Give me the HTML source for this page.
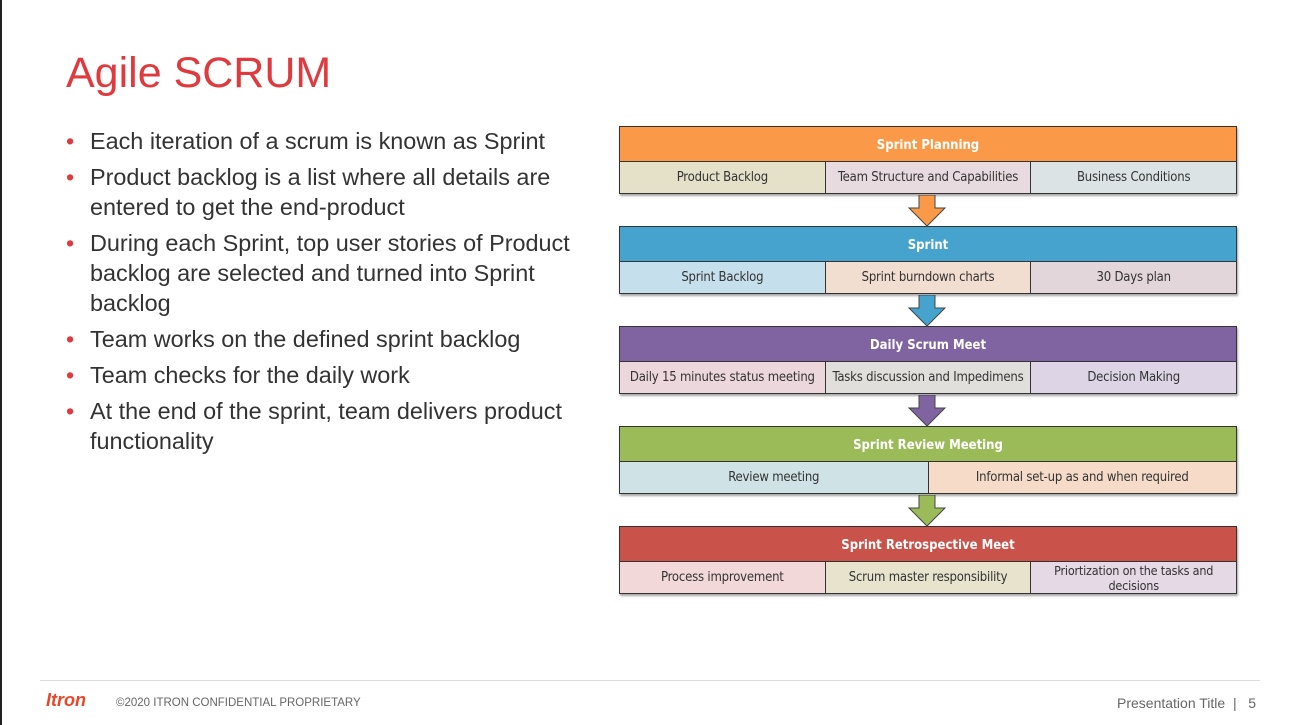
<!DOCTYPE html>
<html><head><style>
body{margin:0;width:1293px;height:725px;background:#fff;position:relative;overflow:hidden;font-family:"Liberation Sans",sans-serif}
.lb{position:absolute;left:0;top:0;width:2px;height:725px;background:#222}
h1{position:absolute;left:66px;top:49px;margin:0;font-weight:normal;font-size:43px;color:#e03a3e}
ul{position:absolute;left:66px;top:126px;margin:0;padding:0;list-style:none;width:530px}
li{position:relative;padding-left:24px;font-size:23.4px;line-height:30px;color:#333;margin-bottom:6px}
li:before{content:"•";position:absolute;left:0;color:#e03a3e}
.blk{position:absolute;left:619px;width:616px;border:1.5px solid #333;box-shadow:1px 2px 2px rgba(0,0,0,.35)}
.hd{height:34px;line-height:38px;text-align:center;color:#fff;font-size:13px;font-weight:600;border-bottom:1.5px solid #333;font-family:"DejaVu Sans Condensed","Liberation Sans Narrow",sans-serif}
.row{display:flex;height:31px}
.row div{flex:1;text-align:center;line-height:31px;font-size:13px;color:#333;border-left:1.5px solid #333;font-family:"DejaVu Sans Condensed","Liberation Sans Narrow",sans-serif;letter-spacing:-.2px}
.row div:first-child{border-left:none}
.arr{position:absolute;left:907px}
.foot{position:absolute;left:40px;top:680px;width:1220px;height:1px;background:#ddd}
</style></head><body>
<div class="lb"></div>
<h1>Agile SCRUM</h1>
<ul>
<li>Each iteration of a scrum is known as Sprint</li>
<li>Product backlog is a list where all details are entered to get the end-product</li>
<li>During each Sprint, top user stories of Product backlog are selected and turned into Sprint backlog</li>
<li>Team works on the defined sprint backlog</li>
<li>Team checks for the daily work</li>
<li>At the end of the sprint, team delivers product functionality</li>
</ul>

<div class="blk" style="top:126px"><div class="hd" style="background:#fa9a48">Sprint Planning</div>
<div class="row"><div style="background:#e5e1c9">Product Backlog</div><div style="background:#e8dbdf">Team Structure and Capabilities</div><div style="background:#dce3e5">Business Conditions</div></div></div>
<div class="blk" style="top:226px"><div class="hd" style="background:#45a3cd">Sprint</div>
<div class="row"><div style="background:#c6dfec">Sprint Backlog</div><div style="background:#f2ddd1">Sprint burndown charts</div><div style="background:#e2d6da">30 Days plan</div></div></div>
<div class="blk" style="top:326px"><div class="hd" style="background:#8064a2">Daily Scrum Meet</div>
<div class="row"><div style="background:#ecd8dc">Daily 15 minutes status meeting</div><div style="background:#e0dfdc">Tasks discussion and Impedimens</div><div style="background:#ddd5e5">Decision Making</div></div></div>
<div class="blk" style="top:426px"><div class="hd" style="background:#9bbb59">Sprint Review Meeting</div>
<div class="row"><div style="background:#cfe2e6">Review meeting</div><div style="background:#f6dcc8">Informal set-up as and when required</div></div></div>
<div class="blk" style="top:526px"><div class="hd" style="background:#c9524a">Sprint Retrospective Meet</div>
<div class="row"><div style="background:#f2d8d8">Process improvement</div><div style="background:#e7e3cd">Scrum master responsibility</div><div style="background:#e5d9e5;line-height:15px;font-size:12.5px;padding-top:1px">Priortization on the tasks and decisions</div></div></div>

<svg class="arr" style="top:195px" width="40" height="32"><path d="M12 0H28V13H38L20 31L2 13H12Z" fill="#fa9a48" stroke="#444" stroke-width="1"/></svg>
<svg class="arr" style="top:295px" width="40" height="32"><path d="M12 0H28V13H38L20 31L2 13H12Z" fill="#45a3cd" stroke="#444" stroke-width="1"/></svg>
<svg class="arr" style="top:395px" width="40" height="32"><path d="M12 0H28V13H38L20 31L2 13H12Z" fill="#8064a2" stroke="#444" stroke-width="1"/></svg>
<svg class="arr" style="top:495px" width="40" height="32"><path d="M12 0H28V13H38L20 31L2 13H12Z" fill="#9bbb59" stroke="#444" stroke-width="1"/></svg>

<div class="foot"></div>
<div style="position:absolute;left:46px;top:690px;color:#e8482a;font-weight:bold;font-style:italic;font-size:18px">Itron</div>
<div style="position:absolute;left:116px;top:697px;color:#666;font-size:11.5px">©2020 ITRON CONFIDENTIAL PROPRIETARY</div>
<div style="position:absolute;left:1117px;top:695px;color:#666;font-size:14px">Presentation Title &nbsp;|&nbsp;&nbsp; 5</div>
</body></html>
